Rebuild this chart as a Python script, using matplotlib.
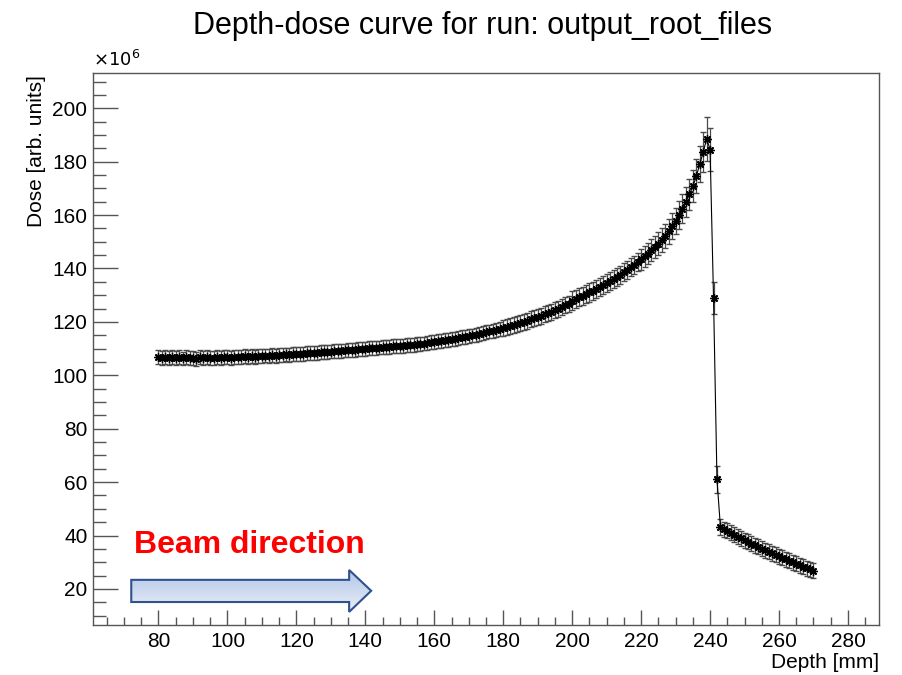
import numpy as np
import matplotlib
matplotlib.use('Agg')
import matplotlib.pyplot as plt
from matplotlib.ticker import MultipleLocator
from matplotlib.patches import Polygon

plt.rcParams['font.family'] = ['Liberation Sans', 'DejaVu Sans']

# depth bins [mm], 1 mm step from 80 to 270
depth = np.arange(80, 271, 1)

# dose values [x10^6 arb. units]
dose = [
    # 80-99
    106.8, 106.5, 106.9, 106.4, 106.7, 106.6, 106.8, 106.3, 106.9, 106.5,
    106.6, 106.2, 106.7, 106.4, 106.8, 106.5, 106.6, 106.9, 106.4, 106.7,
    # 100-119
    106.8, 106.6, 107.0, 106.7, 106.9, 107.1, 106.8, 107.2, 107.0, 107.3,
    107.1, 107.4, 107.2, 107.5, 107.3, 107.6, 107.5, 107.8, 107.6, 107.9,
    # 120-139
    107.9, 108.0, 108.1, 108.2, 108.3, 108.4, 108.5, 108.6, 108.7, 108.8,
    108.9, 109.0, 109.1, 109.2, 109.3, 109.4, 109.5, 109.6, 109.8, 109.9,
    # 140-159
    110.0, 110.1, 110.2, 110.3, 110.4, 110.5, 110.6, 110.7, 110.8, 110.9,
    111.0, 111.1, 111.2, 111.3, 111.5, 111.6, 111.8, 111.9, 112.1, 112.3,
    # 160-179
    112.5, 112.7, 112.9, 113.1, 113.3, 113.5, 113.7, 113.9, 114.2, 114.4,
    114.7, 114.9, 115.2, 115.5, 115.8, 116.1, 116.4, 116.7, 117.0, 117.4,
    # 180-199
    117.7, 118.1, 118.4, 118.8, 119.2, 119.6, 120.0, 120.4, 120.9, 121.3,
    121.8, 122.3, 122.8, 123.3, 123.8, 124.4, 125.0, 125.6, 126.2, 126.8,
    # 200-219
    128.0, 128.6, 129.2, 129.8, 130.4, 131.0, 131.7, 132.4, 133.1, 133.8,
    134.5, 135.3, 136.1, 136.9, 137.7, 138.6, 139.5, 140.4, 141.4, 142.4,
    # 220-239
    143.4, 144.5, 145.6, 146.8, 148.0, 149.3, 150.7, 152.2, 153.9, 155.8,
    157.8, 160.0, 162.4, 165.0, 167.7, 170.8, 174.5, 179.0, 183.5, 188.5,
    # 240-249
    184.5, 129.0, 61.0, 43.2, 42.4, 41.7, 41.0, 40.3, 39.6, 39.0,
    # 250-259
    38.3, 37.7, 37.0, 36.4, 35.8, 35.1, 34.5, 33.9, 33.3, 32.8,
    # 260-270
    32.2, 31.6, 31.1, 30.5, 29.9, 29.4, 28.9, 28.3, 27.8, 27.3, 26.8,
]

# error bars [x10^6]
err = ([2.6] * 100 +                       # 80-179
       [3.0] * 20 +                        # 180-199
       [3.4] * 20 +                        # 200-219
       [3.8, 3.9, 4.0, 4.1, 4.2, 4.3, 4.4, 4.5, 4.6, 4.8,   # 220-229
        5.0, 5.2, 5.4, 5.6, 5.8, 6.0, 6.3, 6.8, 7.5, 8.3] +  # 230-239
       [8.0, 6.0, 5.0, 3.0] +              # 240-243
       [2.8] * 27)                         # 244-270

fig = plt.figure(figsize=(9.02, 6.75), dpi=100)
ax = fig.add_axes([0.1031, 0.0741, 0.8714, 0.8178])

ax.errorbar(depth, dose, yerr=err, fmt='-', color='black', lw=0.8,
            marker=(8, 2, 0), markersize=6, markeredgewidth=1.0,
            ecolor='#4a4a4a', elinewidth=0.9, capsize=2.5, capthick=0.9)

ax.set_xlim(61, 289)
ax.set_ylim(6.5, 213.2)

ax.xaxis.set_major_locator(MultipleLocator(20))
ax.xaxis.set_minor_locator(MultipleLocator(5))
ax.yaxis.set_major_locator(MultipleLocator(20))
ax.yaxis.set_minor_locator(MultipleLocator(5))
ax.tick_params(axis='both', which='both', direction='in', colors='#555555',
               labelcolor='black', labelsize=15)
ax.tick_params(axis='x', which='major', length=11, width=1, pad=5)
ax.tick_params(axis='x', which='minor', length=5.5, width=1)
ax.tick_params(axis='y', which='major', length=18, width=1, pad=4)
ax.tick_params(axis='y', which='minor', length=9, width=1)
for s in ax.spines.values():
    s.set_color('#555555')
    s.set_linewidth(1)

# titles, ROOT style
fig.text(0.535, 0.962, 'Depth-dose curve for run: output_root_files',
         ha='center', va='center', fontsize=22)
fig.text(0.975, 0.018, 'Depth [mm]', ha='right', va='center', fontsize=15)
fig.text(0.041, 0.888, 'Dose [arb. units]', ha='center', va='top',
         rotation=90, fontsize=15)
fig.text(0.103, 0.897, r'$\times10^{6}$', ha='left', va='bottom', fontsize=13)

# beam direction annotation
fig.text(0.149, 0.181, 'Beam direction', color='#ff0000', fontweight='bold',
         ha='left', va='baseline', fontsize=23)
arrow_x = [72.1, 135.3, 135.3, 141.7, 135.3, 135.3, 72.1]
arrow_y = [23.4, 23.4, 27.1, 19.3, 11.4, 15.1, 15.1]
arrow = Polygon(np.column_stack([arrow_x, arrow_y]), closed=True,
                facecolor='none', edgecolor='#2f528f', lw=1.5, zorder=5)
ax.add_patch(arrow)
grad = np.linspace(0, 1, 64).reshape(-1, 1)
img = ax.imshow(grad, cmap=matplotlib.colors.LinearSegmentedColormap.from_list(
    'bl', ['#e8eef8', '#b4c7e7']), extent=[72.1, 141.7, 27.1, 11.4],
    aspect='auto', zorder=4, origin='upper')
img.set_clip_path(arrow)
ax.set_xlim(61, 289)
ax.set_ylim(6.5, 213.2)

fig.savefig('out.png', dpi=100)
